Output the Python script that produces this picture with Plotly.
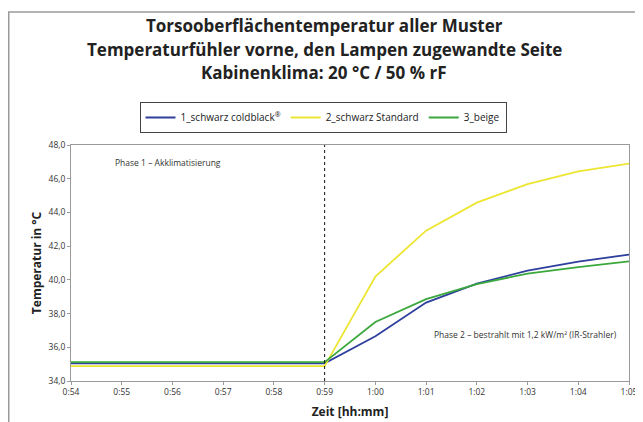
import plotly.graph_objects as go

times = ["0:54", "0:55", "0:56", "0:57", "0:58", "0:59",
         "1:00", "1:01", "1:02", "1:03", "1:04", "1:05"]
coldblack = [35.05, 35.05, 35.05, 35.05, 35.05, 35.05, 36.65, 38.65, 39.78, 40.55, 41.08, 41.5]
standard = [34.88, 34.88, 34.88, 34.88, 34.88, 34.88, 40.2, 42.92, 44.58, 45.68, 46.44, 46.9]
beige = [35.12, 35.12, 35.12, 35.12, 35.12, 35.12, 37.5, 38.86, 39.75, 40.37, 40.76, 41.1]
series_names = ["1_schwarz coldblack<sup>®</sup>", "2_schwarz Standard", "3_beige"]
series_colors = ["#2e3f9c", "#ece532", "#3aa83c"]

# the page body adds an 8px offset; the figure is sized to fit the window
OFF = 8
SW, SH = 643, 422
W, H = SW - OFF, SH - OFF
L, R, T, B = 71, 629, 145, 381   # plot area in screen pixels

def px(x):
    return (x - L) / (R - L)

def py(y):
    return (B - y) / (B - T)

FONT = "Open Sans"

fig = go.Figure()
for name, vals, col in zip(series_names, [coldblack, standard, beige], series_colors):
    fig.add_trace(go.Scatter(x=times, y=vals, mode="lines", name=name,
                             line=dict(color=col, width=1.8)))

fig.update_layout(
    width=W, height=H,
    margin=dict(l=L - OFF, r=SW - R, t=T - OFF, b=SH - B, autoexpand=False),
    paper_bgcolor="white", plot_bgcolor="white",
    separators=",.",
    font=dict(family=FONT, color="#333333", size=9),
    showlegend=True,
    legend=dict(orientation="h", x=px(323), y=py(102), xanchor="center", yanchor="top",
                bordercolor="#444444", borderwidth=1, bgcolor="white",
                font=dict(family=FONT, size=10, color="#222222"),
                itemwidth=30, tracegroupgap=0),
)

fig.update_xaxes(type="category", categoryorder="array", categoryarray=times,
                 range=[0, len(times) - 1], showgrid=False, zeroline=False,
                 automargin=False,
                 showline=True, linecolor="#9a9a9a", linewidth=1, mirror=True,
                 ticks="outside", ticklen=3, tickcolor="#9a9a9a",
                 tickfont=dict(family=FONT, size=8.5, color="#333333"),
                 title=dict(text="<b>Zeit [hh:mm]</b>", font=dict(family=FONT, size=12, color="#222222"),
                            standoff=11))
fig.update_yaxes(range=[34, 48], dtick=2, tick0=34, tickformat=".1f",
                 showgrid=False, zeroline=False, automargin=False,
                 showline=True, linecolor="#9a9a9a", linewidth=1, mirror=True,
                 ticks="outside", ticklen=3, tickcolor="#9a9a9a",
                 tickfont=dict(family=FONT, size=8.5, color="#333333"),
                 title=dict(text="<b>Temperatur in °C</b>", font=dict(family=FONT, size=12, color="#222222"),
                            standoff=4))

# phase separator
sep = times.index("0:59")
fig.add_shape(type="line", xref="x", yref="paper", x0=sep, x1=sep, y0=0, y1=1,
              line=dict(color="#111111", width=1, dash="dot"))

# outer chart border
fig.add_shape(type="path", xref="paper", yref="paper",
              path=f"M {px(8.75)},{py(430)} L {px(8.75)},{py(12)} L {px(650)},{py(12)}",
              line=dict(color="#9a9a9a", width=1.5))

titles = ["Torsooberflächentemperatur aller Muster",
          "Temperaturfühler vorne, den Lampen zugewandte Seite",
          "Kabinenklima: 20 °C / 50 % rF"]
for i, t in enumerate(titles):
    fig.add_annotation(text=f"<b>{t}</b>", xref="paper", yref="paper",
                       x=px(324), y=py(25 + 24 * i), xanchor="center", yanchor="middle",
                       showarrow=False, font=dict(family=FONT, size=17, color="#222222"))

fig.add_annotation(text="Phase 1 – Akklimatisierung", xref="paper", yref="paper",
                   x=px(113), y=py(162), xanchor="left", yanchor="middle", showarrow=False,
                   font=dict(family=FONT, size=8.5, color="#333333"))
fig.add_annotation(text="Phase 2 – bestrahlt mit 1,2 kW/m² (IR-Strahler)", xref="paper", yref="paper",
                   x=px(432), y=py(334), xanchor="left", yanchor="middle", showarrow=False,
                   font=dict(family=FONT, size=8.5, color="#333333"))

fig.write_html("out.html")
